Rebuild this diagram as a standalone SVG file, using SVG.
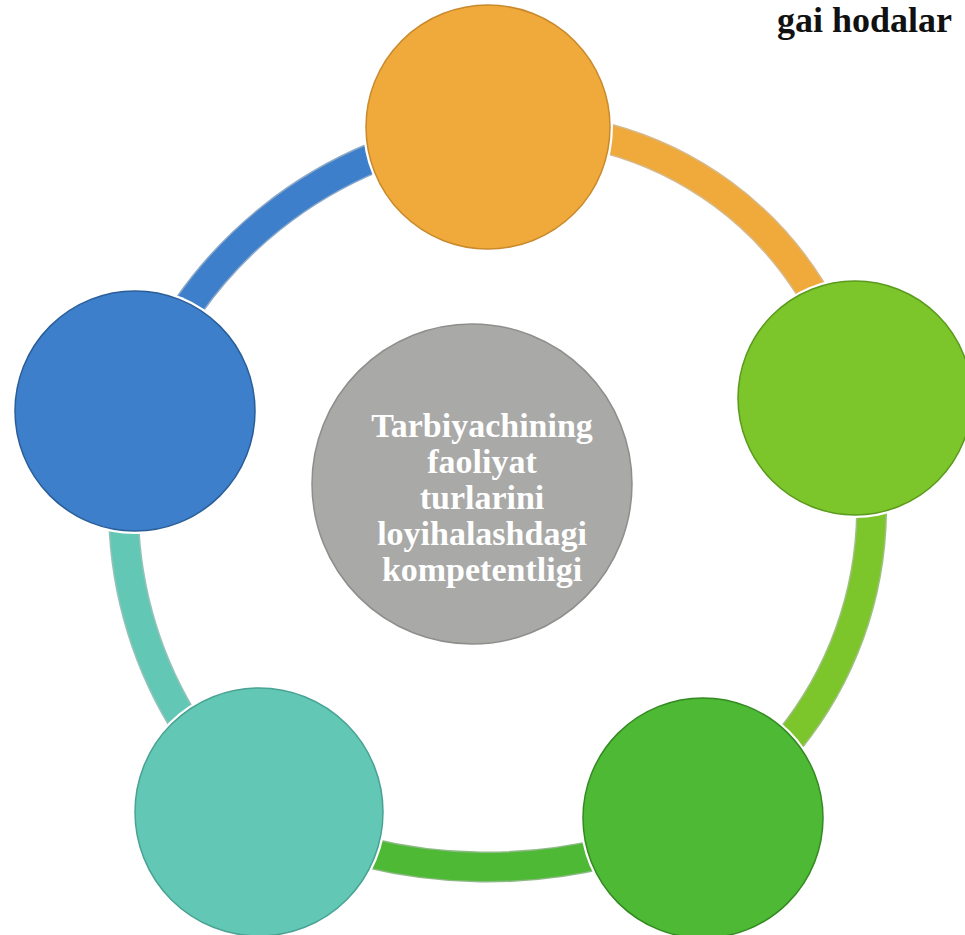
<svg xmlns="http://www.w3.org/2000/svg" width="965" height="935" viewBox="0 0 965 935">
  <style>
    .ring { fill: none; stroke-width: 28; stroke-linecap: butt; }
    .edge { fill: none; stroke-width: 31; stroke-linecap: butt; stroke-opacity: 0.55; }
    .halo { fill: #ffffff; }
    .node { stroke-width: 1.5; }
    .label { font-family: "Liberation Serif", "Times New Roman", serif; font-weight: bold; font-size: 34px; fill: #ffffff; text-anchor: middle; }
    .head { font-family: "Liberation Serif", "Times New Roman", serif; font-weight: bold; font-size: 36px; fill: #111111; text-anchor: end; }
  </style>
  <rect x="0" y="0" width="965" height="935" fill="#ffffff"/>
  <text class="head" x="952" y="32">gai hodalar</text>

  <g id="connectors">
    <path class="edge" stroke="#2a5e99" d="M135,411 A424,424 0 0 1 488,128"/>
    <path class="ring" stroke="#3d7fcb" d="M135,411 A424,424 0 0 1 488,128"/>
    <path class="edge" stroke="#b5802a" d="M488,128 A345,345 0 0 1 855,398"/>
    <path class="ring" stroke="#f0a93b" d="M488,128 A345,345 0 0 1 855,398"/>
    <path class="edge" stroke="#4f8a1a" d="M855,398 A370,370 0 0 1 703,818"/>
    <path class="ring" stroke="#7cc52b" d="M855,398 A370,370 0 0 1 703,818"/>
    <path class="edge" stroke="#2f7f1f" d="M703,818 A500,500 0 0 1 259,812"/>
    <path class="ring" stroke="#4db934" d="M703,818 A500,500 0 0 1 259,812"/>
    <path class="edge" stroke="#3c8f80" d="M259,812 A410,410 0 0 1 135,411"/>
    <path class="ring" stroke="#62c8b5" d="M259,812 A410,410 0 0 1 135,411"/>
  </g>

  <g id="node-orange">
    <circle class="halo" cx="488" cy="127" r="125"/>
    <circle class="node" cx="488" cy="127" r="122" fill="#f0a93b" stroke="#c98a2c"/>
  </g>
  <g id="node-green-right">
    <circle class="halo" cx="855" cy="398" r="120"/>
    <circle class="node" cx="855" cy="398" r="117" fill="#7cc52b" stroke="#5a9a1c"/>
  </g>
  <g id="node-green-bottom">
    <circle class="halo" cx="703" cy="818" r="123"/>
    <circle class="node" cx="703" cy="818" r="120" fill="#4db934" stroke="#348a22"/>
  </g>
  <g id="node-teal">
    <circle class="halo" cx="259" cy="812" r="127"/>
    <circle class="node" cx="259" cy="812" r="124" fill="#62c8b5" stroke="#4aa293"/>
  </g>
  <g id="node-blue">
    <circle class="halo" cx="135" cy="411" r="123"/>
    <circle class="node" cx="135" cy="411" r="120" fill="#3d7fcb" stroke="#2a5e99"/>
  </g>
  <g id="node-center">
    <circle class="node" cx="472" cy="484" r="160" fill="#a9a9a7" stroke="#8e8e8c"/>
    <text class="label" x="482" y="437">Tarbiyachining</text>
    <text class="label" x="482" y="473">faoliyat</text>
    <text class="label" x="482" y="509">turlarini</text>
    <text class="label" x="482" y="545">loyihalashdagi</text>
    <text class="label" x="482" y="581">kompetentligi</text>
  </g>
</svg>
